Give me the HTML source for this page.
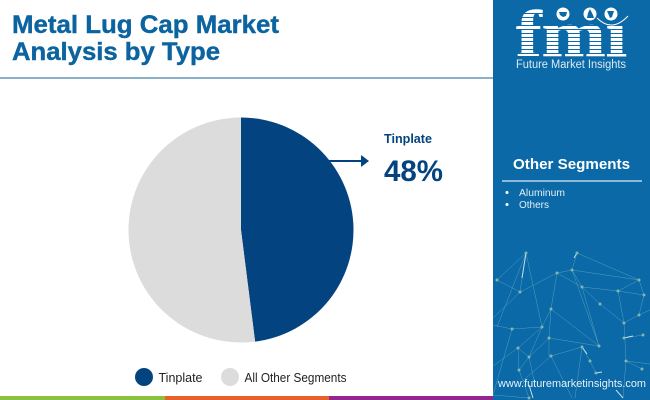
<!DOCTYPE html>
<html lang="en">
<head>
<meta charset="utf-8">
<title>Metal Lug Cap Market Analysis by Type</title>
<style>
html,body{margin:0;padding:0;background:#fff}
svg{display:block;font-family:"Liberation Sans",sans-serif}
</style>
</head>
<body>
<svg id="chart" width="650" height="400" viewBox="0 0 650 400" xmlns="http://www.w3.org/2000/svg">
  <rect width="650" height="400" fill="#ffffff"/>
  <text x="12" y="33" font-size="25" font-weight="700" fill="#0b64a0" stroke="#0b64a0" stroke-width="0.4" textLength="267" lengthAdjust="spacingAndGlyphs">Metal Lug Cap Market</text>
  <text x="12" y="60" font-size="25" font-weight="700" fill="#0b64a0" stroke="#0b64a0" stroke-width="0.4" textLength="208" lengthAdjust="spacingAndGlyphs">Analysis by Type</text>
  <rect x="0" y="77" width="493" height="2" fill="#8ab1c9"/>

  <g id="pie"></g>

  <line x1="329" y1="161" x2="362" y2="161" stroke="#03437f" stroke-width="2"/>
  <polygon points="361,155 369,161 361,167" fill="#03437f"/>
  <text id="callout-name" x="384" y="143" font-size="13" font-weight="700" fill="#03437f" textLength="48" lengthAdjust="spacingAndGlyphs"></text>
  <text id="callout-value" x="384" y="181" font-size="30" font-weight="700" fill="#03437f" textLength="59" lengthAdjust="spacingAndGlyphs"></text>

  <g id="legend"></g>

  <rect x="0" y="396" width="165" height="4" fill="#8cc03f"/>
  <rect x="165" y="396" width="164" height="4" fill="#e8602c"/>
  <rect x="329" y="396" width="164" height="4" fill="#93278f"/>

  <rect x="493" y="0" width="157" height="400" fill="#0a69a6"/>

  <g>
    <text x="516" y="56" font-family="'Liberation Serif',serif" font-size="66" font-weight="700" fill="#ffffff" stroke="#ffffff" stroke-width="0.6" textLength="111" lengthAdjust="spacingAndGlyphs">fmi</text>
    <g stroke="#0a69a6" stroke-width="1">
      <line x1="510" y1="13.5" x2="560" y2="13.5"/><line x1="510" y1="17.5" x2="560" y2="17.5"/>
      <line x1="510" y1="21.5" x2="630" y2="21.5"/><line x1="510" y1="25.5" x2="630" y2="25.5"/>
      <line x1="510" y1="29.5" x2="630" y2="29.5"/><line x1="510" y1="33.5" x2="630" y2="33.5"/>
      <line x1="510" y1="37.5" x2="630" y2="37.5"/><line x1="510" y1="41.5" x2="630" y2="41.5"/>
      <line x1="510" y1="45.5" x2="630" y2="45.5"/><line x1="510" y1="49.5" x2="630" y2="49.5"/>
      <line x1="510" y1="53.5" x2="630" y2="53.5"/>
    </g>
    <rect x="600" y="2" width="32" height="21" fill="#0a69a6"/>
    <circle cx="563" cy="14" r="6.5" fill="#ffffff"/>
    <circle cx="590" cy="14" r="6.5" fill="#ffffff"/>
    <circle cx="611" cy="14" r="6.5" fill="#ffffff"/>
    <path d="M559 12h8l-1 4-3 1-3-2z" fill="#0a69a6"/>
    <path d="M590 9l3 6 1 3h-7l1-5z" fill="#0a69a6"/>
    <path d="M607 11h7l-2 6-2 1z" fill="#0a69a6"/>
    <path d="M597 18 Q612 33 628 16" fill="none" stroke="#ffffff" stroke-width="1"/>
    <text x="516" y="68" font-size="11.5" fill="#dcebf5" textLength="110" lengthAdjust="spacingAndGlyphs">Future Market Insights</text>
  </g>

  <text x="513" y="169" font-size="15" font-weight="700" fill="#ffffff" textLength="117" lengthAdjust="spacingAndGlyphs">Other Segments</text>
  <rect x="502" y="180" width="140" height="2" fill="#8db9d8"/>
  <circle cx="507" cy="192.5" r="1.5" fill="#ffffff"/>
  <text x="519" y="196" font-size="10" fill="#e3eff7" textLength="46" lengthAdjust="spacingAndGlyphs">Aluminum</text>
  <circle cx="507" cy="204.5" r="1.5" fill="#ffffff"/>
  <text x="519" y="208" font-size="10" fill="#e3eff7" textLength="30" lengthAdjust="spacingAndGlyphs">Others</text>

  <g fill="none" stroke="#5fa5c4" stroke-width="0.5" opacity="0.9">
    <path d="M526 253L497 327M526 253L520 292M526 253L542 327M526 253L497 280M497 280L520 292M520 292L557 273M557 273L572 270M572 270L577 253M577 253L639 280M572 270L639 280M557 273L551 309M557 273L582 287M572 270L582 287M582 287L618 291M618 291L639 280M618 291L644 295M639 280L644 295M582 287L600 304M600 304L624 323M618 291L624 323M639 315L624 323M639 315L650 310M644 295L639 315M551 309L542 327M551 309L599 346M572 270L599 346M582 287L599 346M542 327L512 329M512 329L493 325M542 327L518 348M542 327L529 357M549 338L599 346M549 338L549 356M551 309L549 338M549 338L529 357M551 356L582 347M551 356L519 384M551 356L572 398M518 348L529 357M518 348L493 366M518 348L519 370M529 357L519 370M529 357L535 385M582 347L590 361M590 361L596 373M582 347L575 398M624 323L626 361M626 361L623 398M624 338L643 335M626 361L650 364M642 369L626 361M493 395L529 398M512 329L493 395M520 292L493 318M529 398L519 370"/>
    <path d="M526 253L522 278M577 253L574 258M529 385L533 398M624 338L633 336M596 373L602 372M582 347L587 354M616 390L623 398" stroke="#d9edf5" stroke-width="1"/>
    <g fill="#8fbfae" stroke="none">
      <circle cx="526" cy="253" r="1.5"/><circle cx="577" cy="253" r="1.5"/><circle cx="497" cy="280" r="1.5"/><circle cx="520" cy="292" r="1.5"/>
      <circle cx="557" cy="273" r="1.5"/><circle cx="572" cy="270" r="1.5"/><circle cx="639" cy="280" r="1.5"/><circle cx="582" cy="287" r="1.5"/>
      <circle cx="618" cy="291" r="1.5"/><circle cx="644" cy="295" r="1.5"/><circle cx="600" cy="304" r="1.5"/><circle cx="551" cy="309" r="1.5"/>
      <circle cx="639" cy="315" r="1.5"/><circle cx="624" cy="323" r="1.5"/><circle cx="542" cy="327" r="1.5"/><circle cx="512" cy="329" r="1.5"/>
      <circle cx="549" cy="338" r="1.5"/><circle cx="624" cy="338" r="1.5"/><circle cx="643" cy="335" r="1.5"/><circle cx="599" cy="346" r="1.5"/>
      <circle cx="582" cy="347" r="1.5"/><circle cx="518" cy="348" r="1.5"/><circle cx="529" cy="357" r="1.5"/><circle cx="551" cy="356" r="1.5"/>
      <circle cx="590" cy="361" r="1.5"/><circle cx="626" cy="361" r="1.5"/><circle cx="642" cy="369" r="1.5"/><circle cx="519" cy="370" r="1.5"/>
      <circle cx="596" cy="373" r="1.5"/><circle cx="529" cy="398" r="1.5"/>
    </g>
  </g>

  <text x="498" y="387" font-size="11" fill="#e6f1f8" textLength="148" lengthAdjust="spacingAndGlyphs">www.futuremarketinsights.com</text>
</svg>
<script>
const categories = ['Tinplate', 'All Other Segments'];
const shareValues = [48, 52];
const sliceColors = ['#03437f', '#dcdcdc'];

const svgNS = 'http://www.w3.org/2000/svg';
const centerX = 241;
const centerY = 230;
const radius = 112.5;
const total = shareValues.reduce(function (a, b) { return a + b; }, 0);

function angleOf(cumulative) {
  return cumulative / total * 2 * Math.PI - Math.PI / 2;
}
function pointAt(cumulative) {
  const a = angleOf(cumulative);
  return [centerX + radius * Math.cos(a), centerY + radius * Math.sin(a)];
}

const pieGroup = document.getElementById('pie');
let running = 0;
shareValues.forEach(function (value, i) {
  const start = pointAt(running);
  const end = pointAt(running + value);
  const large = value / total > 0.5 ? 1 : 0;
  const slice = document.createElementNS(svgNS, 'path');
  slice.setAttribute('d', 'M' + centerX + ' ' + centerY + 'L' + start[0] + ' ' + start[1] +
    'A' + radius + ' ' + radius + ' 0 ' + large + ' 1 ' + end[0] + ' ' + end[1] + 'Z');
  slice.setAttribute('fill', sliceColors[i]);
  
  
  pieGroup.appendChild(slice);
  running += value;
});

document.getElementById('callout-name').textContent = categories[0];
document.getElementById('callout-value').textContent = shareValues[0] + '%';

const legendGroup = document.getElementById('legend');
const legendSwatchX = [144, 230];
const legendWidths = [44, 102];
categories.forEach(function (name, i) {
  const swatch = document.createElementNS(svgNS, 'circle');
  swatch.setAttribute('cx', legendSwatchX[i]);
  swatch.setAttribute('cy', 377);
  swatch.setAttribute('r', 9);
  swatch.setAttribute('fill', sliceColors[i]);
  
  
  legendGroup.appendChild(swatch);
  const label = document.createElementNS(svgNS, 'text');
  label.setAttribute('x', legendSwatchX[i] + 14.5);
  label.setAttribute('y', 382);
  label.setAttribute('font-size', 12.5);
  label.setAttribute('fill', '#222222');
  label.setAttribute('textLength', legendWidths[i]);
  label.setAttribute('lengthAdjust', 'spacingAndGlyphs');
  
  
  label.textContent = name;
  legendGroup.appendChild(label);
});
</script>
</body>
</html>
